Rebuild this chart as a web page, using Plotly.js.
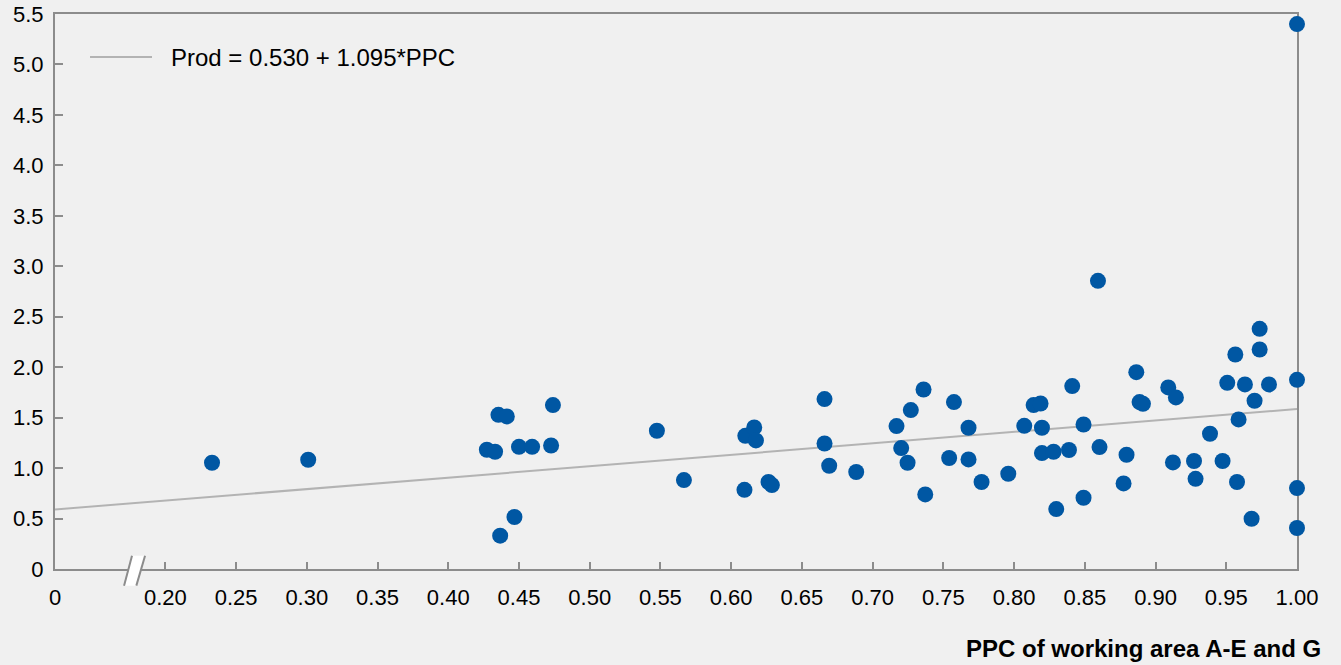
<!DOCTYPE html>
<html>
<head>
<meta charset="utf-8">
<script src="https://cdn.plot.ly/plotly-3.0.1.min.js"></script>
<style>
html,body{margin:0;padding:0;background:#f0f0f0;}
#chart{width:1341px;height:665px;}
</style>
</head>
<body>
<div id="chart"></div>
<script>
// PPC of working area A-E and G (x) vs Prod (y)
const ppc = [
  0.233, 0.301,
  0.4355, 0.4414, 0.474, 0.4273, 0.4331, 0.450, 0.4593, 0.4727, 0.4468, 0.4367,
  0.5475, 0.5666, 0.610, 0.6163, 0.6175, 0.6094, 0.6264, 0.6288,
  0.666, 0.666, 0.6693, 0.6884, 0.7169, 0.727, 0.736, 0.7202, 0.7247, 0.7372,
  0.7575, 0.7678, 0.7541, 0.7678, 0.777,
  0.7959, 0.8072, 0.8138, 0.8187, 0.8197, 0.8197, 0.8279, 0.8388, 0.8411, 0.8298,
  0.8491, 0.8491, 0.8593, 0.8604, 0.8774, 0.8795, 0.8864, 0.8887, 0.8911,
  0.909, 0.9144, 0.9123, 0.9272, 0.9283, 0.9385, 0.9474, 0.9507, 0.9564, 0.9587,
  0.9576, 0.9632, 0.970, 0.9679, 0.9736, 0.9736, 0.9802,
  1.0, 1.0, 1.0, 1.0
];
const prod = [
  1.053, 1.083,
  1.528, 1.512, 1.624, 1.182, 1.162, 1.211, 1.211, 1.224, 0.515, 0.33,
  1.37, 0.881, 1.32, 1.403, 1.274, 0.785, 0.862, 0.832,
  1.684, 1.244, 1.023, 0.961, 1.416, 1.575, 1.779, 1.198, 1.053, 0.739,
  1.654, 1.40, 1.10, 1.086, 0.862,
  0.944, 1.419, 1.624, 1.64, 1.40, 1.149, 1.162, 1.179, 1.813, 0.594,
  1.432, 0.706, 2.856, 1.208, 0.848, 1.132, 1.951, 1.654, 1.637,
  1.799, 1.70, 1.056, 1.07, 0.894, 1.34, 1.07, 1.845, 2.126, 1.482,
  0.862, 1.829, 1.667, 0.498, 2.38, 2.175, 1.829,
  1.875, 0.802, 0.406, 5.40
];

// Regression line end points as drawn
const fitX = [0.122, 1.0];
const fitY = [0.59, 1.585];
const fitLabel = 'Prod = 0.530 + 1.095*PPC';

// Axis ticks (x axis is broken: "0" sits at the left edge)
const xTickVals = [0.122, 0.20, 0.25, 0.30, 0.35, 0.40, 0.45, 0.50, 0.55, 0.60, 0.65, 0.70, 0.75, 0.80, 0.85, 0.90, 0.95, 1.00];
const xTickText = ['0', '0.20', '0.25', '0.30', '0.35', '0.40', '0.45', '0.50', '0.55', '0.60', '0.65', '0.70', '0.75', '0.80', '0.85', '0.90', '0.95', '1.00'];
const yTickVals = [0, 0.5, 1.0, 1.5, 2.0, 2.5, 3.0, 3.5, 4.0, 4.5, 5.0, 5.5];
const yTickText = ['0', '0.5', '1.0', '1.5', '2.0', '2.5', '3.0', '3.5', '4.0', '4.5', '5.0', '5.5'];
const xTitle = 'PPC of working area A-E and G';

const FONT = 'Arial, "Liberation Sans", Helvetica, sans-serif';
const axisColor = '#8c8c8c';

const traces = [
  {
    x: fitX, y: fitY, mode: 'lines', name: fitLabel,
    line: {color: '#b3b3b3', width: 2}, showlegend: false, hoverinfo: 'skip'
  },
  {
    x: ppc, y: prod, mode: 'markers', name: 'Prod',
    marker: {size: 16, color: 'rgb(0,87,163)', line: {width: 0}},
    cliponaxis: false, showlegend: false
  }
];

const layout = {
  width: 1341, height: 665,
  paper_bgcolor: '#f0f0f0', plot_bgcolor: '#f0f0f0',
  margin: {l: 55, r: 44.3, t: 14, b: 95.7},
  font: {family: FONT, size: 22, color: '#000'},
  showlegend: false,
  xaxis: {
    range: [0.122, 1.0], tickmode: 'array', tickvals: xTickVals, ticktext: xTickText,
    showgrid: false, zeroline: false, showline: true, linecolor: axisColor, linewidth: 2,
    mirror: true, ticks: 'inside', ticklen: 7, tickwidth: 2, tickcolor: axisColor,
    ticklabelstandoff: 8,
    tickfont: {family: FONT, size: 22, color: '#000'}, layer: 'below traces', fixedrange: true
  },
  yaxis: {
    range: [0, 5.5], tickmode: 'array', tickvals: yTickVals, ticktext: yTickText,
    showgrid: false, zeroline: false, showline: true, linecolor: axisColor, linewidth: 2,
    mirror: true, ticks: 'inside', ticklen: 8, tickwidth: 2, tickcolor: axisColor,
    ticklabelstandoff: 5,
    tickfont: {family: FONT, size: 22, color: '#000'}, layer: 'below traces', fixedrange: true
  },
  shapes: [
    // axis break mark
    {type: 'path', xref: 'paper', yref: 'paper',
     path: 'M 0.0556,-0.030 L 0.0620,0.024 L 0.0725,0.024 L 0.0655,-0.030 Z',
     fillcolor: '#ffffff', line: {width: 0}, layer: 'above'},
    {type: 'line', xref: 'paper', yref: 'paper', x0: 0.0556, y0: -0.030, x1: 0.0620, y1: 0.024,
     line: {color: axisColor, width: 2}, layer: 'above'},
    {type: 'line', xref: 'paper', yref: 'paper', x0: 0.0655, y0: -0.030, x1: 0.0725, y1: 0.024,
     line: {color: axisColor, width: 2}, layer: 'above'},
    // legend sample line
    {type: 'line', xref: 'paper', yref: 'paper', x0: 0.0282, y0: 0.9226, x1: 0.0781, y1: 0.9226,
     line: {color: '#b3b3b3', width: 2}}
  ],
  annotations: [
    {xref: 'paper', yref: 'paper', x: 0.0932, y: 0.9226, xanchor: 'left', yanchor: 'middle',
     xshift: -2, yshift: -1,
     text: fitLabel, showarrow: false, font: {family: FONT, size: 24, color: '#000'}},
    {xref: 'paper', yref: 'paper', x: 1, y: 0, xanchor: 'right', yanchor: 'middle',
     xshift: 26, yshift: -79, text: '<b>' + xTitle + '</b>', showarrow: false,
     font: {family: FONT, size: 24, color: '#000'}}
  ]
};

Plotly.newPlot('chart', traces, layout, {displayModeBar: false, staticPlot: true});
</script>
</body>
</html>
